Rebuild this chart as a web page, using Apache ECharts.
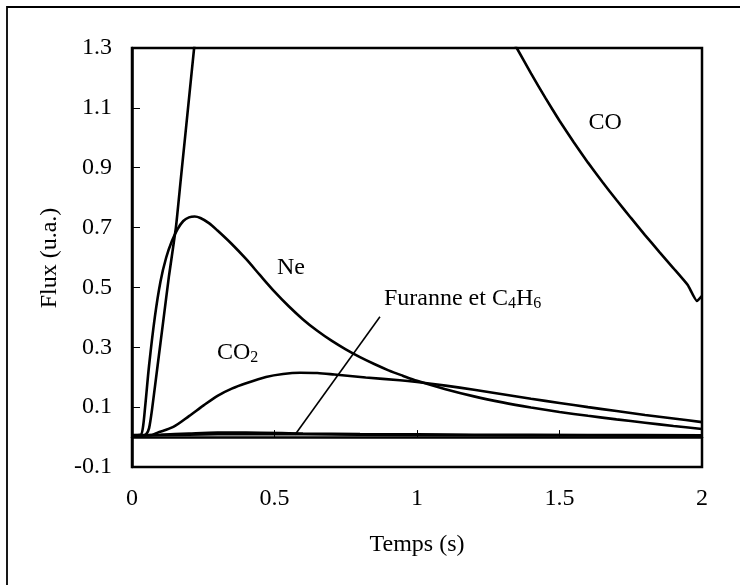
<!DOCTYPE html>
<html>
<head>
<meta charset="utf-8">
<script src="https://cdn.jsdelivr.net/npm/echarts@6/dist/echarts.min.js"></script>
<style>
html,body{margin:0;padding:0;background:#fff;}
#c{width:740px;height:585px;}
</style>
</head>
<body>
<div id="c"></div>
<script>
// ---- data ----
var xTicks = [0, 0.5, 1, 1.5, 2];
var yTicks = [-0.1, 0.1, 0.3, 0.5, 0.7, 0.9, 1.1, 1.3];

var coRiseTime = [0, 0.04, 0.05, 0.06, 0.07, 0.09, 0.11, 0.13, 0.154, 0.17, 0.186, 0.202, 0.218, 0.235];
var coRiseFlux = [0.006, 0.006, 0.01, 0.03, 0.09, 0.24, 0.39, 0.54, 0.70, 0.85, 1.0, 1.15, 1.30, 1.46];
var coFallTime = [1.30, 1.35, 1.40, 1.45, 1.50, 1.55, 1.60, 1.65, 1.70, 1.75, 1.80, 1.85, 1.90, 1.95, 1.982, 2.0];
var coFallFlux = [1.39, 1.30, 1.215, 1.134, 1.057, 0.985, 0.917, 0.853, 0.792, 0.733, 0.675, 0.619, 0.564, 0.508, 0.455, 0.472];

var neTime = [0, 0.03, 0.038, 0.046, 0.06, 0.08, 0.10, 0.12, 0.14, 0.16, 0.18, 0.20, 0.22, 0.24, 0.27, 0.30, 0.35, 0.40, 0.45, 0.50, 0.55, 0.60, 0.65, 0.70, 0.75, 0.80, 0.85, 0.90, 0.95, 1.0, 1.1, 1.2, 1.3, 1.4, 1.5, 1.6, 1.7, 1.8, 1.9, 2.0];
var neFlux = [0.007, 0.008, 0.03, 0.1, 0.24, 0.40, 0.52, 0.60, 0.655, 0.695, 0.722, 0.734, 0.737, 0.732, 0.715, 0.69, 0.645, 0.595, 0.54, 0.486, 0.437, 0.393, 0.355, 0.322, 0.293, 0.267, 0.244, 0.223, 0.205, 0.188, 0.16, 0.136, 0.116, 0.099, 0.084, 0.071, 0.059, 0.048, 0.037, 0.027];

var co2Time = [0, 0.07, 0.088, 0.145, 0.2, 0.25, 0.3, 0.35, 0.4, 0.47, 0.53, 0.59, 0.65, 0.71, 0.82, 0.94, 1.0, 1.1, 1.2, 1.3, 1.4, 1.5, 1.6, 1.7, 1.8, 1.9, 2.0];
var co2Flux = [0.006, 0.007, 0.014, 0.034, 0.07, 0.105, 0.138, 0.162, 0.18, 0.201, 0.211, 0.215, 0.214, 0.209, 0.199, 0.19, 0.184, 0.172, 0.158, 0.143, 0.128, 0.114, 0.1, 0.087, 0.074, 0.062, 0.05];

var furTime = [0, 0.1, 0.2, 0.3, 0.4, 0.6, 0.8, 1.2, 1.6, 2.0];
var furFlux = [0.006, 0.008, 0.012, 0.015, 0.015, 0.012, 0.01, 0.008, 0.007, 0.006];
var c4h6Time = [0, 0.2, 0.4, 0.8, 1.2, 2.0];
var c4h6Flux = [0.005, 0.008, 0.01, 0.008, 0.006, 0.005];

// annotation pointer (data coords)
var pointerTime = [0.572, 0.870];
var pointerFlux = [0.008, 0.402];

// annotation labels (data coords)
var labelNames = ['CO', 'Ne', 'CO2', 'Furanne et C4H6'];
var labelTime = [1.66, 0.558, 0.298, 0.884];
var labelFlux = [1.049, 0.566, 0.282, 0.463];

function zip(a, b) { return a.map(function (v, i) { return [v, b[i]]; }); }

var FONT = 'Liberation Serif, Times New Roman, serif';
var chart = echarts.init(document.getElementById('c'), null, {renderer: 'canvas'});

var lineStyle = {color: '#000', width: 2.6};
function ser(data, smooth) {
  return {type: 'line', data: data, showSymbol: false, symbol: 'none', smooth: smooth,
          lineStyle: lineStyle, clip: true, animation: false, connectNulls: false};
}
var coData = zip(coRiseTime, coRiseFlux).concat([['-', '-']]).concat(zip(coFallTime, coFallFlux));

chart.setOption({
  animation: false,
  backgroundColor: '#fff',
  grid: {left: 132, right: 38, top: 48, bottom: 118, show: true, borderColor: '#000', borderWidth: 2.5, containLabel: false},
  xAxis: {
    type: 'value', min: 0, max: 2, interval: 0.5,
    axisLine: {show: true, lineStyle: {color: '#000', width: 2.5}},
    axisTick: {show: true, inside: true, length: 7, lineStyle: {color: '#000', width: 1}},
    axisLabel: {color: '#000', fontFamily: FONT, fontSize: 24, margin: 20},
    splitLine: {show: false}
  },
  yAxis: {
    type: 'value', min: -0.1, max: 1.3, interval: 0.2,
    axisLine: {show: true, lineStyle: {color: '#000', width: 2.5}},
    axisTick: {show: true, inside: true, length: 8, lineStyle: {color: '#000', width: 1}},
    axisLabel: {color: '#000', fontFamily: FONT, fontSize: 24, margin: 20,
      formatter: function (v) { return (Math.round(v * 10) / 10).toString(); }},
    splitLine: {show: false}
  },
  series: [
    ser(coData, 0.15),
    ser(zip(neTime, neFlux), 0.3),
    ser(zip(co2Time, co2Flux), 0.3),
    ser(zip(furTime, furFlux), 0.3),
    ser(zip(c4h6Time, c4h6Flux), 0.3),
    {type: 'line', data: zip(pointerTime, pointerFlux), showSymbol: false, symbol: 'none',
     lineStyle: {color: '#000', width: 1.6}, animation: false}
  ]
});

// annotations positioned from data coordinates
function px(i) { return chart.convertToPixel({gridIndex: 0}, [labelTime[i], labelFlux[i]]); }
var rich = {
  m: {fontFamily: FONT, fontSize: 24, lineHeight: 26, color: '#000'},
  s: {fontFamily: FONT, fontSize: 16, lineHeight: 8, verticalAlign: 'bottom', color: '#000'}
};
var p0 = px(0), p1 = px(1), p2 = px(2), p3 = px(3);
chart.setOption({
  graphic: [
    {type: 'rect', shape: {x: 7, y: 7, width: 760, height: 620}, style: {fill: null, stroke: '#000', lineWidth: 1.8}, silent: true},
    {type: 'text', x: p0[0], y: p0[1], style: {text: '{m|CO}', rich: rich, align: 'center', verticalAlign: 'middle'}},
    {type: 'text', x: p1[0], y: p1[1], style: {text: '{m|Ne}', rich: rich, align: 'center', verticalAlign: 'middle'}},
    {type: 'text', x: p2[0], y: p2[1], style: {text: '{m|CO}{s|2}', rich: rich, align: 'left', verticalAlign: 'middle'}},
    {type: 'text', x: p3[0], y: p3[1], style: {text: '{m|Furanne et C}{s|4}{m|H}{s|6}', rich: rich, align: 'left', verticalAlign: 'middle'}},
    {type: 'text', x: 50, y: 258, rotation: Math.PI / 2, style: {text: 'Flux (u.a.)', fontFamily: FONT, fontSize: 24, fill: '#000', align: 'center', verticalAlign: 'middle'}},
    {type: 'text', x: 417, y: 545, style: {text: 'Temps (s)', fontFamily: FONT, fontSize: 24, fill: '#000', align: 'center', verticalAlign: 'middle'}}
  ]
});
</script>
</body>
</html>
